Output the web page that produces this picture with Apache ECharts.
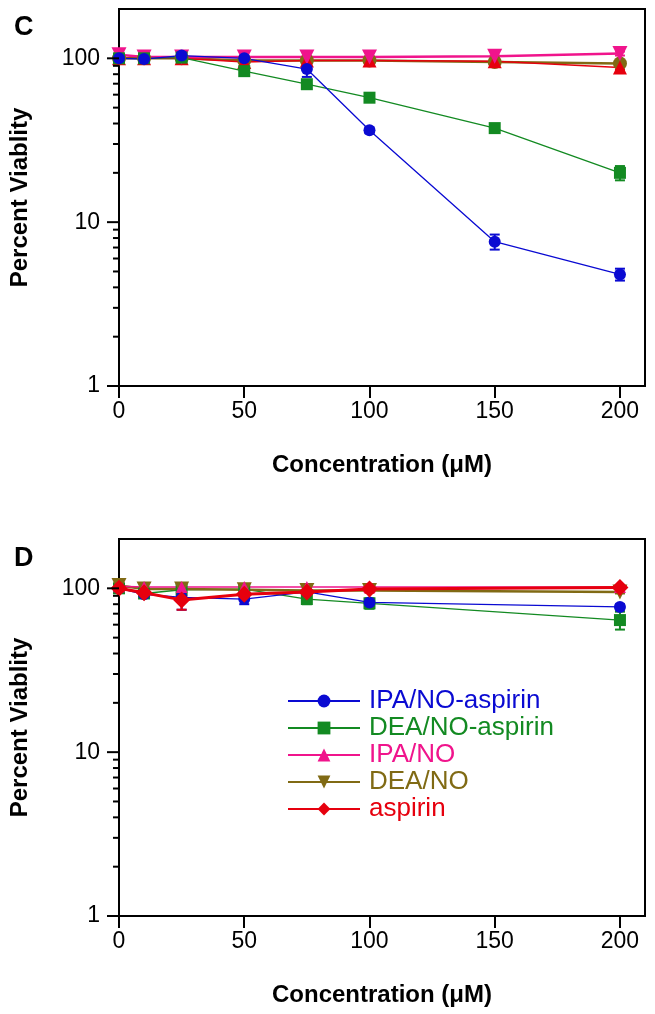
<!DOCTYPE html>
<html><head><meta charset="utf-8">
<script src="https://cdn.jsdelivr.net/npm/echarts@6/dist/echarts.min.js"></script>
<style>html,body{margin:0;padding:0;background:#fff}#c{width:655px;height:1014px}</style>
</head><body><div id="c"></div>
<script>
// ---- data ----
const names = ['IPA/NO-aspirin', 'DEA/NO-aspirin', 'IPA/NO', 'DEA/NO', 'aspirin'];
const xTicks = [0, 50, 100, 150, 200];
const yMajorTicks = [1, 10, 100];
const yMinorTicks = [2, 3, 4, 5, 6, 7, 8, 9, 20, 30, 40, 50, 60, 70, 80, 90];

// Panel C
const xC = [0, 10, 25, 50, 75, 100, 150, 200];
const ipaAspC = [100, 99, 104, 100, 86, 36.4, 7.6, 4.8];
const ipaAspErrC = [2, 5, 5, 4, 9, 1.5, 0.8, 0.4];
const deaAspC = [100, 100, 101, 83.5, 69.5, 57.5, 37.5, 20];
const deaAspErrC = [2, 3, 3, 2, 2, 1.5, 1.2, 2];
const ipaC = [105, 102, 102, 102, 102, 102, 103, 107];
const ipaErrC = [2, 1, 1, 1, 1, 1, 1, 3];
const deaC = [100, 100, 100, 97, 97, 97, 95, 93];
const deaErrC = [1, 1, 1, 1, 1, 1, 1, 3];
const aspC = [100, 100, 100, 95, 97, 97, 96, 88];
const aspErrC = [1, 1, 1, 2, 1, 1, 2, 3];

// Panel D
const xD = [0, 10, 25, 50, 75, 100, 200];
const ipaAspD = [100, 92, 88, 86, 95, 82, 77];
const ipaAspErrD = [3, 4, 14, 6, 3, 4, 3];
const deaAspD = [100, 93, 98, 99, 86, 81, 64];
const deaAspErrD = [2, 3, 5, 3, 6, 6, 8];
const ipaD = [103, 102, 102, 102, 102, 102, 102];
const ipaErrD = [1, 1, 1, 1, 1, 1, 1];
const deaD = [104, 99, 99, 98, 97, 97, 95];
const deaErrD = [2, 1, 1, 1, 1, 1, 2];
const aspD = [100, 94, 85, 92, 95, 99, 101];
const aspErrD = [5, 3, 11, 3, 3, 5, 3];

// ---- styles ----
const col = {
  'IPA/NO-aspirin': '#0a0ad2',
  'DEA/NO-aspirin': '#138a22',
  'IPA/NO': '#f0148c',
  'DEA/NO': '#806a14',
  'aspirin': '#e6000e'
};
const FONT = "'Liberation Sans', Arial, sans-serif";

function lineSeries(name, xs, ys, idx, symbol, size, width, rotate, z) {
  return {
    type: 'line', name: name, xAxisIndex: idx, yAxisIndex: idx,
    data: xs.map((x, i) => [x, ys[i]]),
    symbol: symbol, symbolSize: size, symbolRotate: rotate || 0, showAllSymbol: true,
    lineStyle: { color: col[name], width: width },
    itemStyle: { color: col[name] },
    z: z || 3, animation: false
  };
}
function errSeries(name, xs, ys, errs, idx) {
  const c = col[name];
  return {
    type: 'custom', xAxisIndex: idx, yAxisIndex: idx, silent: true, clip: false, z: 2,
    encode: { x: 0, y: [1, 2] },
    data: xs.map((x, i) => [x, ys[i] - errs[i], ys[i] + errs[i]]),
    renderItem: function (params, api) {
      const x = api.value(0);
      const a = api.coord([x, api.value(1)]);
      const b = api.coord([x, api.value(2)]);
      const w = 5;
      const st = { stroke: c, lineWidth: 2 };
      return { type: 'group', children: [
        { type: 'line', shape: { x1: a[0], y1: a[1], x2: b[0], y2: b[1] }, style: st },
        { type: 'line', shape: { x1: a[0] - w, y1: a[1], x2: a[0] + w, y2: a[1] }, style: st },
        { type: 'line', shape: { x1: b[0] - w, y1: b[1], x2: b[0] + w, y2: b[1] }, style: st }
      ] };
    }
  };
}
function yTickSeries(idx) {
  const data = yMajorTicks.map(v => [0, v, 12]).concat(yMinorTicks.map(v => [0, v, 6]));
  return {
    type: 'custom', xAxisIndex: idx, yAxisIndex: idx, silent: true, clip: false, z: 5,
    encode: { x: 0, y: 1 },
    data: data,
    renderItem: function (params, api) {
      const p = api.coord([0, api.value(1)]);
      const len = api.value(2);
      return { type: 'line', shape: { x1: p[0] - len, y1: p[1], x2: p[0], y2: p[1] },
        style: { stroke: '#000', lineWidth: 2 } };
    }
  };
}

function xAxisOpt(idx) {
  return {
    gridIndex: idx, type: 'value', min: 0, max: 210, interval: 50,
    axisLine: { show: true, onZero: false, lineStyle: { color: '#000', width: 2 } },
    axisTick: { show: true, length: 12, customValues: xTicks, lineStyle: { color: '#000', width: 2 } },
    axisLabel: { customValues: xTicks, fontSize: 23, color: '#000', margin: 14, fontFamily: FONT },
    splitLine: { show: false },
    name: 'Concentration (μM)', nameLocation: 'middle', nameGap: 67,
    nameTextStyle: { fontSize: 24, fontWeight: 'bold', color: '#000', fontFamily: FONT }
  };
}
function yAxisOpt(idx) {
  return {
    gridIndex: idx, type: 'log', logBase: 10, min: 1, max: 200,
    axisLine: { show: true, onZero: false, lineStyle: { color: '#000', width: 2 } },
    axisTick: { show: false },
    axisLabel: { fontSize: 23, color: '#000', margin: 19, fontFamily: FONT,
      formatter: v => (yMajorTicks.indexOf(Math.round(v)) >= 0 && Math.abs(v - Math.round(v)) < 1e-6) ? String(Math.round(v)) : '' },
    splitLine: { show: false }, minorTick: { show: false },
    name: 'Percent Viablity', nameLocation: 'middle', nameGap: 87, nameRotate: 90,
    nameTextStyle: { fontSize: 24, fontWeight: 'bold', color: '#000', fontFamily: FONT }
  };
}

const series = [
  // Panel D (first so legend icons come from here)
  lineSeries('DEA/NO-aspirin', xD, deaAspD, 1, 'rect', 12, 1.3),
  lineSeries('IPA/NO-aspirin', xD, ipaAspD, 1, 'circle', 12, 1.3),
  lineSeries('DEA/NO', xD, deaD, 1, 'triangle', 15, 2.5, 180),
  lineSeries('IPA/NO', xD, ipaD, 1, 'triangle', 12, 1.5),
  lineSeries('aspirin', xD, aspD, 1, 'diamond', 17, 3, 0, 4),
  errSeries('IPA/NO-aspirin', xD, ipaAspD, ipaAspErrD, 1),
  errSeries('DEA/NO-aspirin', xD, deaAspD, deaAspErrD, 1),
  errSeries('IPA/NO', xD, ipaD, ipaErrD, 1),
  errSeries('DEA/NO', xD, deaD, deaErrD, 1),
  errSeries('aspirin', xD, aspD, aspErrD, 1),
  // Panel C
  lineSeries('DEA/NO', xC, deaC, 0, 'circle', 14, 2.5),
  lineSeries('aspirin', xC, aspC, 0, 'triangle', 14, 1.5),
  lineSeries('IPA/NO', xC, ipaC, 0, 'triangle', 15, 2.5, 180),
  lineSeries('DEA/NO-aspirin', xC, deaAspC, 0, 'rect', 12, 1.3),
  lineSeries('IPA/NO-aspirin', xC, ipaAspC, 0, 'circle', 12, 1.3),
  errSeries('IPA/NO-aspirin', xC, ipaAspC, ipaAspErrC, 0),
  errSeries('DEA/NO-aspirin', xC, deaAspC, deaAspErrC, 0),
  errSeries('IPA/NO', xC, ipaC, ipaErrC, 0),
  errSeries('DEA/NO', xC, deaC, deaErrC, 0),
  errSeries('aspirin', xC, aspC, aspErrC, 0),
  yTickSeries(0),
  yTickSeries(1)
];

const chart = echarts.init(document.getElementById('c'), null, { renderer: 'canvas' });
chart.setOption({
  animation: false,
  backgroundColor: '#fff',
  textStyle: { fontFamily: FONT },
  title: [
    { text: 'C', left: 9, top: 9, textStyle: { fontSize: 27, fontWeight: 'bold', color: '#000', fontFamily: FONT } },
    { text: 'D', left: 9, top: 540, textStyle: { fontSize: 27, fontWeight: 'bold', color: '#000', fontFamily: FONT } }
  ],
  grid: [
    { left: 119, top: 9, width: 526, height: 377, show: true, borderColor: '#000', borderWidth: 2, backgroundColor: 'transparent' },
    { left: 119, top: 539, width: 526, height: 377, show: true, borderColor: '#000', borderWidth: 2, backgroundColor: 'transparent' }
  ],
  xAxis: [xAxisOpt(0), xAxisOpt(1)],
  yAxis: [yAxisOpt(0), yAxisOpt(1)],
  legend: {
    orient: 'vertical', left: 287, top: 688, padding: 0, itemWidth: 72, itemHeight: 16, itemGap: 1,
    selectedMode: false,
    textStyle: { fontSize: 26, fontFamily: FONT, padding: [0, 0, 0, 4] },
    data: names.map(n => ({ name: n, textStyle: { color: col[n] } }))
  },
  series: series
});
</script>
</body></html>
